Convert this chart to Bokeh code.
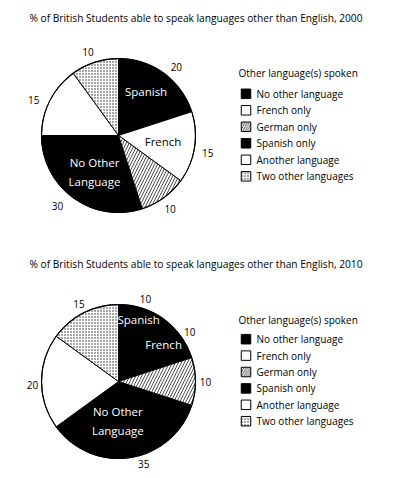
import math
from bokeh.plotting import figure
from bokeh.models import Range1d, ColumnDataSource
from bokeh.core.properties import value
from bokeh.embed import file_html
from bokeh.resources import INLINE

# ---------------- data ----------------
slice_order = ["Spanish only", "French only", "German only", "No other language",
               "Another language", "Two other languages"]
values_2000 = [20, 15, 10, 30, 15, 10]
values_2010 = [10, 10, 10, 35, 20, 15]
titles = ["% of British Students able to speak languages other than English, 2000",
          "% of British Students able to speak languages other than English, 2010"]
legend_title = "Other language(s) spoken"
legend_labels = ["No other language", "French only", "German only", "Spanish only",
                 "Another language", "Two other languages"]
inner_names_2000 = ["Spanish", "French", "", "No Other\nLanguage", "", ""]
inner_names_2010 = ["Spanish", "French", "", "No Other\nLanguage", "", ""]

# ---------------- style ----------------
W, H = 407, 478
FONT = "Open Sans"
styles = {
    "black": dict(fill="black", hatch=None),
    "white": dict(fill="white", hatch=None),
    "diag": dict(fill="white", hatch="/"),
    "dots": dict(fill="white", hatch="dot"),
}
fills_2000 = ["black", "white", "diag", "black", "white", "dots"]
fills_2010 = ["black", "black", "diag", "black", "white", "dots"]
legend_fills = ["black", "white", "diag", "black", "white", "dots"]


def Y(y):
    return H - y


p = figure(width=W, height=H, output_backend="svg", toolbar_location=None,
           x_range=Range1d(0, W), y_range=Range1d(0, H),
           min_border=0, outline_line_color=None)
p.axis.visible = False
p.grid.visible = False
p.background_fill_color = "white"
p.border_fill_color = "white"

R = 77


def draw_pie(cx, cy, vals, fills, inner, inner_pos, num_pos, title_y, leg_title_y,
             leg_y0, leg_dy, title):
    total = float(sum(vals))
    cum = 0.0
    starts, ends, mids = [], [], []
    for v in vals:
        a0 = cum / total * 2 * math.pi
        cum += v
        a1 = cum / total * 2 * math.pi
        starts.append(math.pi / 2 - a0)
        ends.append(math.pi / 2 - a1)
        mids.append((a0 + a1) / 2)
    for st in styles:
        idx = [i for i, f in enumerate(fills) if f == st]
        if not idx:
            continue
        s = styles[st]
        src = ColumnDataSource(dict(x=[cx] * len(idx), y=[Y(cy)] * len(idx),
                                    s=[starts[i] for i in idx], e=[ends[i] for i in idx]))
        kw = dict(x="x", y="y", radius=R, start_angle="s", end_angle="e", direction="clock",
                  fill_color=s["fill"], line_color="black", line_width=1, source=src)
        if s["hatch"] == "/":
            kw.update(hatch_pattern="/", hatch_color="black", hatch_scale=6, hatch_weight=0.7)
        elif s["hatch"]:
            kw.update(hatch_pattern=s["hatch"], hatch_color="#222222", hatch_scale=3,
                      hatch_weight=0.7)
        p.wedge(**kw)
    p.circle(x=[cx], y=[Y(cy)], radius=R, fill_color=None, line_color="black", line_width=1.2)
    # value labels
    lx, ly = [], []
    for i, m in enumerate(mids):
        da, rr = num_pos[i]
        mm = m + math.radians(da)
        lx.append(cx + rr * math.sin(mm))
        ly.append(Y(cy) + rr * math.cos(mm))
    p.text(x=lx, y=ly, text=[str(v) for v in vals], text_font=value(FONT),
           text_font_size="10px", text_align="center", text_baseline="middle", text_color="black")
    # inner labels
    for i, name in enumerate(inner):
        if not name:
            continue
        da, rr = inner_pos[i]
        m = mids[i] + math.radians(da)
        tx = cx + rr * math.sin(m)
        ty = Y(cy) + rr * math.cos(m)
        col = "white" if fills[i] == "black" else "black"
        lines = name.split("\n")
        n = len(lines)
        for k, ln in enumerate(lines):
            p.text(x=[tx], y=[ty + (n - 1) * 9.5 - k * 19], text=[ln], text_font=value(FONT),
                   text_font_size="11.5px", text_align="center", text_baseline="middle",
                   text_color=col)
    # title
    p.text(x=[29], y=[Y(title_y)], text=[title], text_font=value(FONT), text_font_size="10.2px",
           text_align="left", text_baseline="middle", text_color="black")
    # legend
    p.text(x=[238], y=[Y(leg_title_y)], text=[legend_title], text_font=value(FONT),
           text_font_size="10px", text_align="left", text_baseline="middle", text_color="black")
    for j, (lab, f) in enumerate(zip(legend_labels, legend_fills)):
        yy = Y(leg_y0 + j * leg_dy)
        s = styles[f]
        kw = dict(x=[245.5], y=[yy], width=9.5, height=9.5, fill_color=s["fill"],
                  line_color="black", line_width=1)
        if s["hatch"] == "/":
            kw.update(hatch_pattern="/", hatch_color="black", hatch_scale=4.5, hatch_weight=0.7)
        elif s["hatch"]:
            kw.update(hatch_pattern=s["hatch"], hatch_color="#222222", hatch_scale=3,
                      hatch_weight=0.7)
        p.rect(**kw)
        p.text(x=[256], y=[yy], text=[lab], text_font=value(FONT), text_font_size="10px",
               text_align="left", text_baseline="middle", text_color="black")


inner_pos_2000 = [(-4, 52), (-1, 45), (0, 0), (-3, 44), (0, 0), (0, 0)]
inner_pos_2010 = [(0, 65), (-3, 58), (0, 0), (10, 40), (0, 0), (0, 0)]
num_pos_2000 = [(4, 90), (2, 91), (1, 90), (5, 93), (-4, 92), (-2, 89)]
num_pos_2010 = [(0, 87), (1, 87), (0, 87), (-8, 86), (-2, 86), (0, 87)]

draw_pie(118, 135, values_2000, fills_2000, inner_names_2000, inner_pos_2000, num_pos_2000,
         17, 72, 93.3, 16.5, titles[0])
draw_pie(118, 381, values_2010, fills_2010, inner_names_2010, inner_pos_2010, num_pos_2010,
         263, 319, 338.7, 16.4, titles[1])

open("out.html", "w").write(file_html(p, INLINE))
